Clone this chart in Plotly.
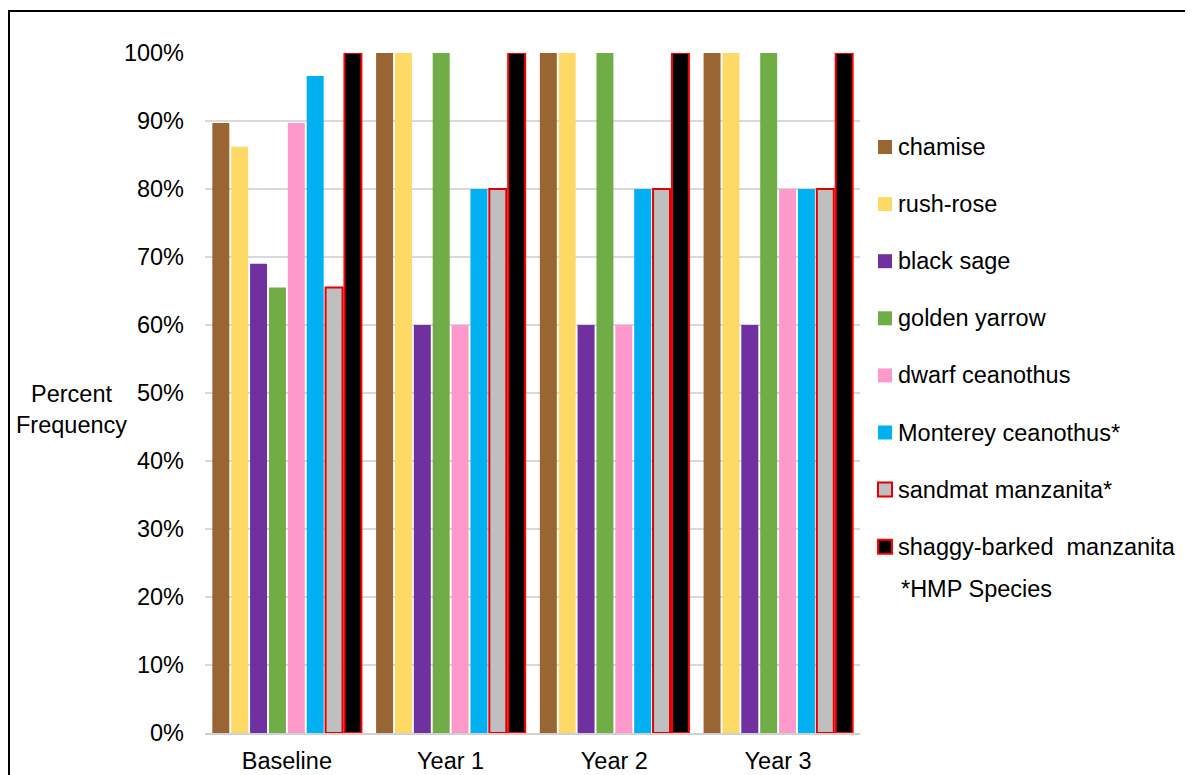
import plotly.graph_objects as go

# data
periods = ["Baseline", "Year 1", "Year 2", "Year 3"]
species = ["chamise", "rush-rose", "black sage", "golden yarrow",
           "dwarf ceanothus", "Monterey ceanothus*", "sandmat manzanita*",
           "shaggy-barked  manzanita"]
chamise = [0.897, 1.0, 1.0, 1.0]
rush_rose = [0.862, 1.0, 1.0, 1.0]
black_sage = [0.690, 0.60, 0.60, 0.60]
golden_yarrow = [0.655, 1.0, 1.0, 1.0]
dwarf_ceanothus = [0.897, 0.60, 0.60, 0.80]
monterey_ceanothus = [0.966, 0.80, 0.80, 0.80]
sandmat_manzanita = [0.655, 0.80, 0.80, 0.80]
shaggy_manzanita = [1.0, 1.0, 1.0, 1.0]

values = [chamise, rush_rose, black_sage, golden_yarrow, dwarf_ceanothus,
          monterey_ceanothus, sandmat_manzanita, shaggy_manzanita]
fills = ["#996633", "#FFD966", "#7030A0", "#70AD47", "#FF99CC", "#00B0F0",
         "#BFBFBF", "#000000"]
outlines = [None, None, None, None, None, None, "#E00000", "#FF0000"]

FONT = "Liberation Sans, Arial, sans-serif"
FS = 23.5

# the page body has an 8px margin, so the figure is 8px smaller
W, H = 1185, 767
L, R, T, B = 197, 333, 45, 42
pw, ph = W - L - R, H - T - B


def px(x):
    # page pixel -> paper x
    return (x - 8 - L) / pw


def py(y):
    # page pixel -> paper y
    return (H - B + 8 - y) / ph


fig = go.Figure()
for i in range(len(species)):
    line = dict(width=0)
    if outlines[i]:
        line = dict(width=2, color=outlines[i])
    fig.add_trace(go.Bar(
        x=periods, y=values[i], name=species[i],
        marker=dict(color=fills[i], line=line),
        cliponaxis=False, showlegend=False,
    ))

fig.update_layout(
    width=W, height=H,
    margin=dict(l=L, r=R, t=T, b=B),
    paper_bgcolor="white", plot_bgcolor="white",
    font=dict(family=FONT, size=FS, color="black"),
    barmode="group", bargap=0.078, bargroupgap=0.1,
    xaxis=dict(showline=True, linecolor="#D0D0D0", linewidth=2,
               ticks="", showgrid=False, ticklabelstandoff=6,
               automargin=False),
    yaxis=dict(range=[0, 1], dtick=0.1, tickformat=".0%",
               showgrid=True, gridcolor="#D9D9D9", gridwidth=2,
               zeroline=False, showline=False, ticks="",
               ticklabelstandoff=20, automargin=False),
)

# legend drawn by hand to match the spacing of the original
for i in range(len(species)):
    yc = 147 + i * 57.1
    line = dict(width=0)
    if outlines[i]:
        line = dict(width=2, color=outlines[i])
    fig.add_shape(type="rect", xref="paper", yref="paper",
                  x0=px(878), x1=px(892), y0=py(yc + 7), y1=py(yc - 7),
                  fillcolor=fills[i], line=line)
    fig.add_annotation(text=species[i], xref="paper", yref="paper",
                       x=px(896), y=py(yc), xanchor="left", yanchor="middle",
                       showarrow=False, font=dict(size=FS))

# footnote under the legend
fig.add_annotation(text="*HMP Species", xref="paper", yref="paper",
                   x=px(899), y=py(589), xanchor="left", yanchor="middle",
                   showarrow=False, font=dict(size=FS))

# y axis title, horizontal, two lines
fig.add_annotation(text="Percent<br>Frequency", xref="paper", yref="paper",
                   x=px(71), y=py(409), xanchor="center", yanchor="middle",
                   showarrow=False, font=dict(size=FS), align="center")

# outer frame of the chart
fig.add_shape(type="rect", xref="paper", yref="paper",
              x0=px(9), x1=px(1215), y0=py(800), y1=py(11),
              line=dict(color="black", width=2), layer="below")

fig.write_html("out.html")
